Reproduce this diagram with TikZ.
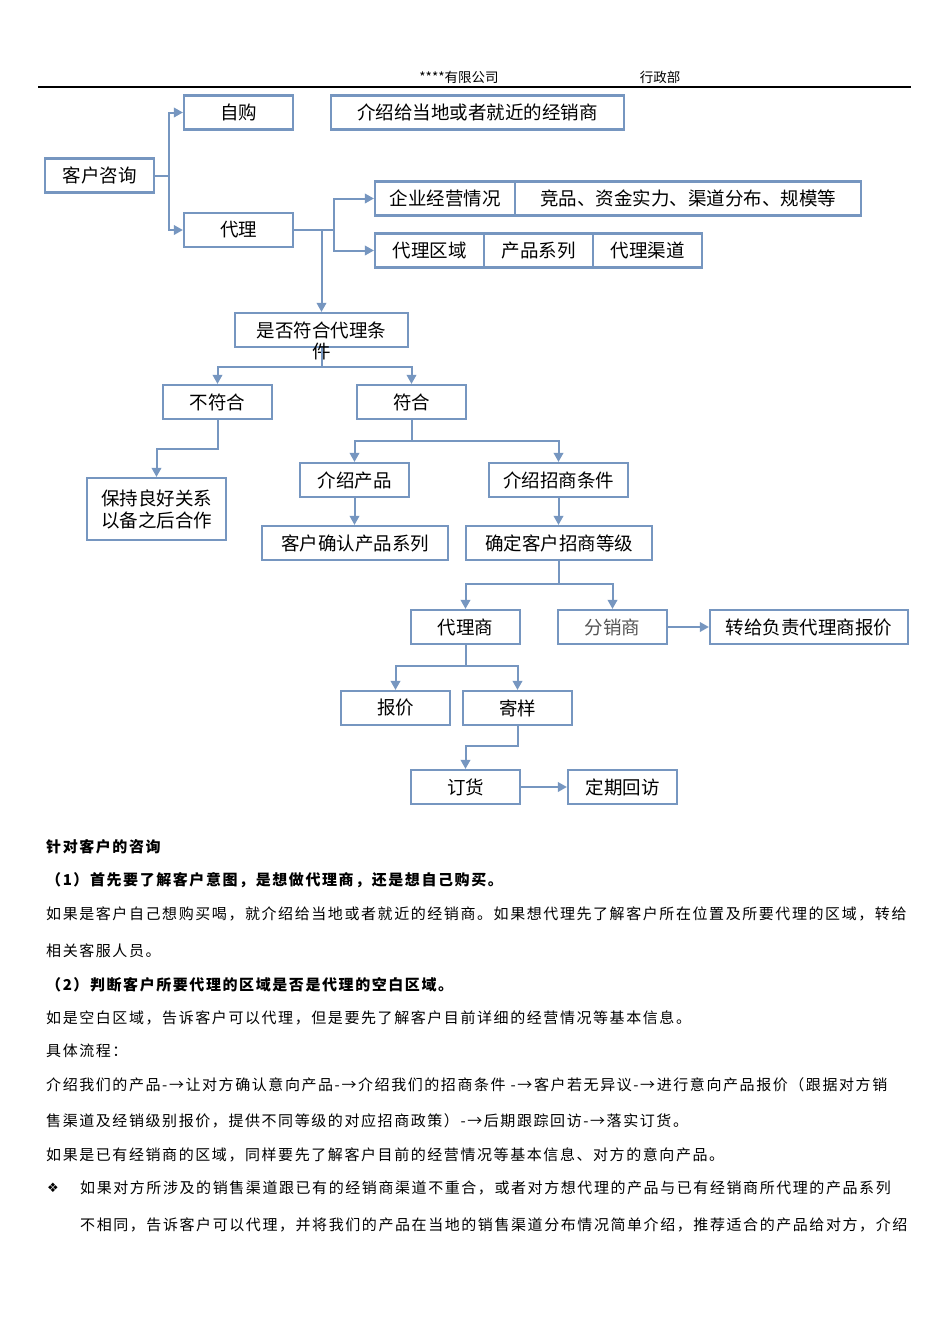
\documentclass[tikz,border=0pt]{standalone}
\usepackage{fontspec}
\setmainfont{Noto Sans CJK SC}
\newfontfamily\bodyfont[LetterSpace=10.5]{Noto Sans CJK SC}
\newfontfamily\symfont{DejaVu Sans}
\usetikzlibrary{arrows.meta}
\definecolor{boxblue}{RGB}{118,150,192}
\definecolor{greytext}{RGB}{85,85,85}

\begin{document}
\begin{tikzpicture}[x=1pt, y=-1pt,
  box/.style = {draw=boxblue, line width=2.2pt, minimum width=#1, minimum height=34pt, inner sep=0pt, font=\fontsize{18.5}{22}\selectfont},
  box/.default = 109pt,
  link/.style = {draw=boxblue, line width=2pt, ->},
  para/.style = {anchor=west, inner sep=0pt, font=\bodyfont\fontsize{15}{18}\selectfont},
  >={Triangle[length=9pt, width=9.5pt]}]

% Page
\useasboundingbox (0,0) rectangle (950,1344);

% Header
\node[font=\fontsize{13.5}{16}\selectfont] (company) at (459,77) {****有限公司};
\node[font=\fontsize{13.5}{16}\selectfont] (dept) at (660,77) {行政部};
\draw[line width=1.2pt] (38,87) -- (911,87);

% Boxes
\node[box] (kehu) at (99.5,175.5) {客户咨询};
\node[box] (zigou) at (238.5,112.5) {自购};
\node[box=293pt] (jingxiao) at (477.5,112.5) {介绍给当地或者就近的经销商};
\node[box] (daili) at (238.5,230) {代理};
\node[box=140pt] (qiye) at (445,198.5) {企业经营情况};
\node[box=346pt] (jingpin) at (688,198.5) {竞品、资金实力、渠道分布、规模等};
\node[box] (quyu) at (429.5,250.5) {代理区域};
\node[box] (xilie) at (538.5,250.5) {产品系列};
\node[box] (qudao) at (647.5,250.5) {代理渠道};
\node[box=173pt, label={[inner sep=0pt, label distance=-5pt, font=\fontsize{18.5}{22}\selectfont]below:件}] (shifou) at (321.5,330) {是否符合代理条};
\node[box] (bufu) at (217.5,402) {不符合};
\node[box] (fuhe) at (411.5,402) {符合};
\node[box=139pt, minimum height=62pt, align=center] (baochi) at (156.5,509) {保持良好关系\\以备之后合作};
\node[box] (jscp) at (354.5,480) {介绍产品};
\node[box=139pt] (jszs) at (558.5,480) {介绍招商条件};
\node[box=186pt] (queren) at (355,543) {客户确认产品系列};
\node[box=186pt] (dengji) at (559,543) {确定客户招商等级};
\node[box] (dls) at (465.5,627) {代理商};
\node[box, text=greytext] (fxs) at (612.5,627) {分销商};
\node[box=198pt] (zhuangei) at (809,627) {转给负责代理商报价};
\node[box] (baojia) at (395.5,708) {报价};
\node[box] (jiyang) at (517.5,708) {寄样};
\node[box] (dinghuo) at (465.5,787) {订货};
\node[box] (huifang) at (622.5,787) {定期回访};

% Connectors
\draw[link] (kehu.east) -- ++(14,0) |- (zigou.west);
\draw[link] (kehu.east) -- ++(14,0) |- (daili.west);
\draw[link] (daili.east) -- ++(40,0) |- (qiye.west);
\draw[link] (daili.east) -- ++(40,0) |- (quyu.west);
\draw[link] (shifou.north |- daili.east) -- (shifou.north);
\draw[link] (shifou.south) -- ++(0,19) -| (bufu.north);
\draw[link] (shifou.south) -- ++(0,19) -| (fuhe.north);
\draw[link] (bufu.south) -- ++(0,29) -| (baochi.north);
\draw[link] (fuhe.south) -- ++(0,21) -| (jscp.north);
\draw[link] (fuhe.south) -- ++(0,21) -| (jszs.north);
\draw[link] (jscp.south) -- (jscp.south |- queren.north);
\draw[link] (jszs.south) -- (jszs.south |- dengji.north);
\draw[link] (dengji.south) -- ++(0,23) -| (dls.north);
\draw[link] (dengji.south) -- ++(0,23) -| (fxs.north);
\draw[link] (fxs) -- (zhuangei);
\draw[link] (dls.south) -- ++(0,21) -| (baojia.north);
\draw[link] (dls.south) -- ++(0,21) -| (jiyang.north);
\draw[link] (jiyang.south) -- ++(0,20) -| (dinghuo.north);
\draw[link] (dinghuo) -- (huifang);

% Text below the chart
\node[para] (title) at (46,847) {\bfseries 针对客户的咨询};
\node[para] (q1) at (46,880) {\bfseries （1）首先要了解客户意图，是想做代理商，还是想自己购买。};
\node[para] (l1) at (46,914) {如果是客户自己想购买喝，就介绍给当地或者就近的经销商。如果想代理先了解客户所在位置及所要代理的区域，转给};
\node[para] (l2) at (46,951) {相关客服人员。};
\node[para] (q2) at (46,985) {\bfseries （2）判断客户所要代理的区域是否是代理的空白区域。};
\node[para] (l3) at (46,1018) {如是空白区域，告诉客户可以代理，但是要先了解客户目前详细的经营情况等基本信息。};
\node[para] (l4) at (46,1051) {具体流程：};
\node[para] (l5) at (46,1085) {介绍我们的产品-→让对方确认意向产品-→介绍我们的招商条件 -→客户若无异议-→进行意向产品报价（跟据对方销};
\node[para] (l6) at (46,1121) {售渠道及经销级别报价，提供不同等级的对应招商政策）-→后期跟踪回访-→落实订货。};
\node[para] (l7) at (46,1155) {如果是已有经销商的区域，同样要先了解客户目前的经营情况等基本信息、对方的意向产品。};
\node[para, font=\symfont\fontsize{13}{15}\selectfont] (bullet) at (47,1188) {❖};
\node[para] (l8) at (80,1188) {如果对方所涉及的销售渠道跟已有的经销商渠道不重合，或者对方想代理的产品与已有经销商所代理的产品系列};
\node[para] (l9) at (80,1225) {不相同，告诉客户可以代理，并将我们的产品在当地的销售渠道分布情况简单介绍，推荐适合的产品给对方，介绍};

\end{tikzpicture}
\end{document}
